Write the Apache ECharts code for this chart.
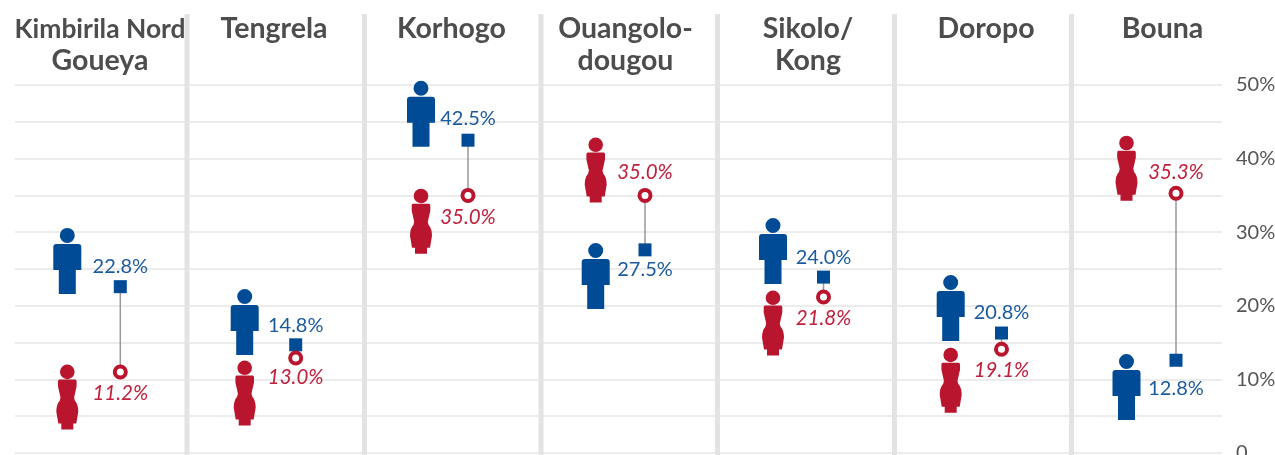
<!DOCTYPE html>
<html>
<head>
<meta charset="utf-8">
<style>html,body{margin:0;padding:0;background:#fff;overflow:hidden}#c{width:1275px;height:455px}</style>
<script src="https://cdn.jsdelivr.net/npm/echarts@6/dist/echarts.min.js"></script>
</head>
<body>
<div id="c"></div>
<script>
// ---- data ----
const regions = ['Kimbirila Nord\nGoueya', 'Tengrela', 'Korhogo', 'Ouangolo-\ndougou', 'Sikolo/\nKong', 'Doropo', 'Bouna'];
const menPoint = [22.6, 14.7, 42.5, 27.6, 23.9, 16.3, 12.6];
const womenPoint = [11.0, 12.9, 35.0, 35.0, 21.2, 14.1, 35.3];
const menLabels = ['22.8%', '14.8%', '42.5%', '27.5%', '24.0%', '20.8%', '12.8%'];
const womenLabels = ['11.2%', '13.0%', '35.0%', '35.0%', '21.8%', '19.1%', '35.3%'];
const menFigure = [26.1, 17.8, 46.1, 24.05, 27.45, 19.7, 8.97];
const womenFigure = [7.6, 8.15, 31.5, 38.45, 17.66, 9.9, 38.7];
const slots = ['figure', 'point'];
const yTicks = [0, 10, 20, 30, 40, 50];

// ---- layout ----
const figureX = [67.3, 244.7, 421, 595.7, 773, 950.7, 1126.5];
const pointX = [120.3, 295.7, 468, 645, 823.5, 1001.5, 1176];
const titleX = [100, 274, 451.5, 625.5, 808, 986, 1162.5];
const separatorX = [187, 364.5, 541, 717.5, 894.5, 1071.5];
const menLabelDy = [-20, -19, -22, 20, -20, -20, 28];
const womenLabelDy = [21, 19, 22, -23, 21, 21, -21];
const gridTop = 85, gridBottom = 2;

const blue = '#004b96', red = '#b9152f', redText = '#c0213c', blueText = '#1a5a9e';
const font = 'Lato, "Open Sans", sans-serif';
const manPath = 'path://M14 0A7.5 7.5 0 1 1 13.99 0ZM3 16L25 16Q28 16 28 19L28 42L22.5 42L22.5 66L5.5 66L5.5 42L0 42L0 19Q0 16 3 16Z';
const womanPath = 'path://M11 0A7.3 7.3 0 1 1 10.99 0ZM3 15L19 15Q20.3 15 20.3 17L20.3 22L17.8 33L18.5 36Q22 40 22 47L20 59L17 59L17 65L5 65L5 59L2 59L0 47Q0 40 3.5 36L4.2 33L1.7 22L1.7 17Q1.7 15 3 15Z';

const grids = [{left: 15, right: 53, top: gridTop, bottom: gridBottom, outerBoundsMode: 'none'}];
const xAxes = [{gridIndex: 0, type: 'value', min: 0, max: 1, show: false}];
const yAxes = [{
  gridIndex: 0, type: 'value', min: 0, max: 50, interval: 5, position: 'right',
  axisLine: {show: false}, axisTick: {show: false},
  splitLine: {show: true, lineStyle: {color: '#e6e6e6', width: 1.5}},
  axisLabel: {
    show: true, margin: 14, color: '#555', fontFamily: font, fontSize: 20,
    formatter: v => yTicks.includes(v) ? (v === 0 ? '0' : v + '%') : ''
  }
}];
const series = [];

regions.forEach((name, i) => {
  const g = i + 1;
  const step = pointX[i] - figureX[i];
  grids.push({left: figureX[i] - step / 2, width: step * 2, top: gridTop, bottom: gridBottom, outerBoundsMode: 'none'});
  xAxes.push({gridIndex: g, type: 'category', data: slots, show: false});
  yAxes.push({gridIndex: g, type: 'value', min: 0, max: 50, show: false});
  const base = {xAxisIndex: g, yAxisIndex: g, silent: true, animation: false};
  series.push({...base, type: 'line', symbol: 'none', z: 3,
    lineStyle: {color: '#999', width: 1.5},
    data: [[1, menPoint[i]], [1, womenPoint[i]]]});
  series.push({...base, type: 'scatter', symbol: manPath, symbolSize: [28, 66], z: 4,
    itemStyle: {color: blue, opacity: 1}, data: [[0, menFigure[i]]]});
  series.push({...base, type: 'scatter', symbol: womanPath, symbolSize: [22, 65], z: 4,
    itemStyle: {color: red, opacity: 1}, data: [[0, womenFigure[i]]]});
  series.push({...base, type: 'scatter', symbol: 'rect', symbolSize: 13, z: 5,
    itemStyle: {color: blue, opacity: 1}, data: [[1, menPoint[i]]],
    label: {show: true, position: 'inside', offset: [0, menLabelDy[i]], formatter: () => menLabels[i],
      color: blueText, fontFamily: font, fontSize: 20}});
  series.push({...base, type: 'scatter', symbol: 'circle', symbolSize: 11, z: 5,
    itemStyle: {color: '#fff', borderColor: red, borderWidth: 4, opacity: 1}, data: [[1, womenPoint[i]]],
    label: {show: true, position: 'inside', offset: [0, womenLabelDy[i]], formatter: () => womenLabels[i],
      color: redText, fontFamily: font, fontSize: 20.5, fontStyle: 'italic'}});
});

const titleStyle = {fontFamily: font, fontSize: 28.5, fontWeight: 'bold', color: '#4d4d4d', lineHeight: 32};
const chart = echarts.init(document.getElementById('c'), null, {renderer: 'canvas'});
chart.setOption({
  animation: false,
  backgroundColor: '#fff',
  title: regions.map((t, i) => ({
    text: i === 0 ? t.split('\n').map((l, k) => `{${k ? 'b' : 'a'}|${l}}`).join('\n') : t,
    left: titleX[i], top: 13, padding: 0, textAlign: 'center',
    textStyle: {...titleStyle, rich: {a: {...titleStyle, fontSize: 26.4}, b: titleStyle}}
  })),
  grid: grids, xAxis: xAxes, yAxis: yAxes, series,
  graphic: separatorX.map(x => ({
    type: 'rect', silent: true, z: 2,
    shape: {x: x - 2.5, y: 14, width: 5, height: 441},
    style: {fill: '#e3e3e3'}
  }))
});
</script>
</body>
</html>
